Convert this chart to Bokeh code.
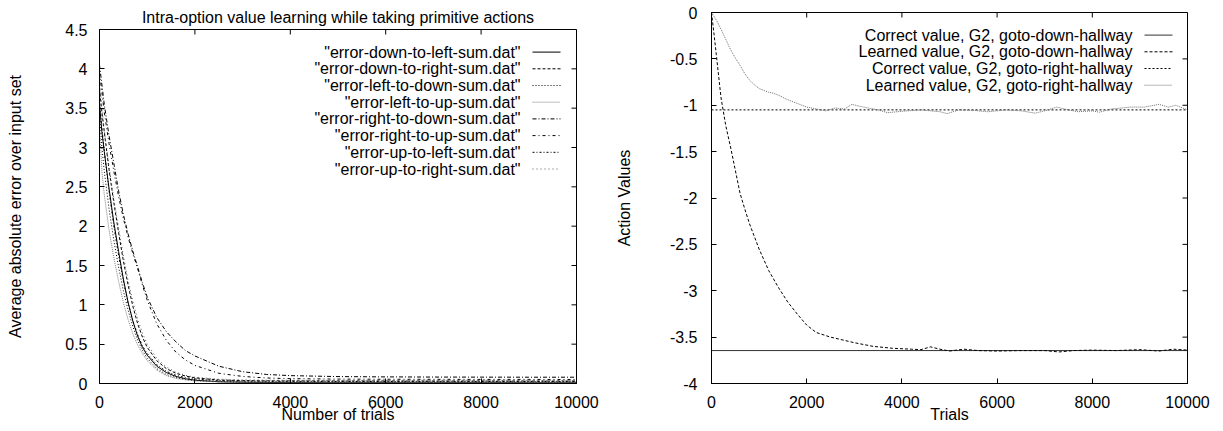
from bokeh.plotting import figure
from bokeh.layouts import row, column
from bokeh.models import FixedTicker, Range1d, Spacer
from bokeh.core.properties import value
from bokeh.embed import file_html
from bokeh.resources import INLINE

FONT = "Liberation Sans"
FS = "16px"

# ---------------- Left chart data ----------------
left_title = "Intra-option value learning while taking primitive actions"
left_xlabel = "Number of trials"
left_ylabel = "Average absolute error over input set"
left_names = [
    '"error-down-to-left-sum.dat"',
    '"error-down-to-right-sum.dat"',
    '"error-left-to-down-sum.dat"',
    '"error-left-to-up-sum.dat"',
    '"error-right-to-down-sum.dat"',
    '"error-right-to-up-sum.dat"',
    '"error-up-to-left-sum.dat"',
    '"error-up-to-right-sum.dat"',
]
trials_left = [0, 50, 100, 200, 300, 400, 500, 600, 700, 800, 900, 1000, 1200, 1400,
               1600, 1800, 2000, 2500, 3000, 3500, 4000, 5000, 6000, 7000, 8000, 9000, 10000]
err_down_to_left = [3.55, 3.2, 2.95, 2.48, 2.05, 1.68, 1.33, 1.03, 0.79, 0.6, 0.46, 0.36, 0.22, 0.14,
                    0.09, 0.06, 0.042, 0.022, 0.016, 0.013, 0.012, 0.011, 0.011, 0.010, 0.011, 0.010, 0.010]
err_down_to_right = [3.75, 3.45, 3.2, 2.72, 2.3, 1.92, 1.56, 1.25, 0.98, 0.76, 0.59, 0.46, 0.29, 0.19,
                     0.13, 0.095, 0.072, 0.045, 0.037, 0.034, 0.033, 0.032, 0.032, 0.031, 0.032, 0.031, 0.031]
err_left_to_down = [3.45, 3.0, 2.7, 2.22, 1.82, 1.48, 1.18, 0.93, 0.72, 0.55, 0.42, 0.32, 0.19, 0.115,
                    0.075, 0.052, 0.038, 0.024, 0.019, 0.017, 0.016, 0.016, 0.016, 0.015, 0.016, 0.015, 0.016]
err_left_to_up = [3.3, 2.7, 2.4, 1.95, 1.6, 1.3, 1.03, 0.81, 0.63, 0.49, 0.38, 0.29, 0.17, 0.1,
                  0.065, 0.045, 0.033, 0.021, 0.017, 0.015, 0.014, 0.014, 0.014, 0.015, 0.014, 0.014, 0.014]
err_right_to_down = [4.05, 3.8, 3.55, 3.15, 2.8, 2.45, 2.15, 1.9, 1.68, 1.48, 1.28, 1.1, 0.84, 0.66,
                     0.53, 0.42, 0.35, 0.22, 0.15, 0.115, 0.1, 0.088, 0.084, 0.082, 0.081, 0.080, 0.080]
err_right_to_up = [3.95, 3.7, 3.45, 3.05, 2.7, 2.38, 2.1, 1.86, 1.65, 1.46, 1.25, 1.06, 0.76, 0.55,
                   0.4, 0.3, 0.23, 0.13, 0.09, 0.07, 0.062, 0.056, 0.054, 0.053, 0.052, 0.052, 0.051]
err_up_to_left = [3.6, 3.25, 2.95, 2.45, 2.0, 1.63, 1.3, 1.02, 0.8, 0.62, 0.48, 0.38, 0.24, 0.155,
                  0.105, 0.075, 0.058, 0.038, 0.031, 0.028, 0.027, 0.026, 0.026, 0.027, 0.026, 0.026, 0.026]
err_up_to_right = [3.85, 3.5, 3.22, 2.75, 2.35, 1.98, 1.62, 1.31, 1.04, 0.82, 0.64, 0.5, 0.32, 0.21,
                   0.145, 0.105, 0.08, 0.055, 0.046, 0.043, 0.042, 0.041, 0.040, 0.041, 0.040, 0.040, 0.040]
left_series = [err_down_to_left, err_down_to_right, err_left_to_down, err_left_to_up,
               err_right_to_down, err_right_to_up, err_up_to_left, err_up_to_right]
left_xticks = [0, 2000, 4000, 6000, 8000, 10000]
left_yticks = [0, 0.5, 1, 1.5, 2, 2.5, 3, 3.5, 4, 4.5]
left_ytick_labels = ["0", "0.5", "1", "1.5", "2", "2.5", "3", "3.5", "4", "4.5"]

# ---------------- Right chart data ----------------
right_xlabel = "Trials"
right_ylabel = "Action Values"
right_names = [
    "Correct value, G2, goto-down-hallway",
    "Learned value, G2, goto-down-hallway",
    "Correct value, G2, goto-right-hallway",
    "Learned value, G2, goto-right-hallway",
]
correct_x = [0, 10000]
correct_down = [-3.645, -3.645]
correct_right = [-1.05, -1.05]
trials_down = [0, 50, 100, 200, 300, 400, 500, 600, 700, 800, 1000, 1200, 1400, 1600, 1800, 2000,
               2200, 2500, 3000, 3400, 3800, 4200, 4400, 4600, 4800, 5000, 5300, 5600, 6000,
               6500, 7000, 7300, 7600, 8000, 8500, 9000, 9400, 9700, 10000]
learned_down = [0, -0.22, -0.45, -0.92, -1.22, -1.45, -1.7, -1.95, -2.12, -2.28, -2.55, -2.78,
                -2.96, -3.12, -3.25, -3.37, -3.45, -3.5, -3.56, -3.6, -3.62, -3.63, -3.635,
                -3.605, -3.63, -3.65, -3.63, -3.645, -3.65, -3.645, -3.645, -3.66, -3.645,
                -3.64, -3.645, -3.635, -3.65, -3.63, -3.64]
trials_right = [0, 100, 200, 300, 400, 500, 600, 700, 800, 900, 1000, 1200, 1300, 1400, 1600,
                1800, 2000, 2200, 2400, 2600, 2800, 2950, 3100, 3300, 3500, 3700, 4000, 4400,
                4800, 4950, 5200, 5500, 5800, 6200, 6500, 6800, 7000, 7250, 7500, 7700, 8000,
                8150, 8400, 8600, 8800, 9100, 9400, 9600, 9750, 10000]
learned_right = [0, -0.08, -0.18, -0.29, -0.4, -0.49, -0.57, -0.66, -0.73, -0.78, -0.82, -0.86,
                 -0.87, -0.89, -0.94, -0.98, -1.02, -1.04, -1.06, -1.03, -1.04, -0.99, -1.01,
                 -1.03, -1.05, -1.08, -1.065, -1.05, -1.07, -1.09, -1.05, -1.055, -1.07, -1.05,
                 -1.06, -1.085, -1.06, -1.02, -1.05, -1.07, -1.06, -1.075, -1.04, -1.03, -1.02,
                 -1.02, -0.99, -1.02, -1.0, -1.05]
right_xticks = [0, 2000, 4000, 6000, 8000, 10000]
right_yticks = [0, -0.5, -1, -1.5, -2, -2.5, -3, -3.5, -4]
right_ytick_labels = ["0", "-0.5", "-1", "-1.5", "-2", "-2.5", "-3", "-3.5", "-4"]

# ---------------- styles ----------------
left_styles = [
    dict(color="black", dash="solid"),
    dict(color="black", dash="3 2"),
    dict(color="black", dash="1 2"),
    dict(color="#7f7f7f", dash="1 1"),
    dict(color="black", dash="4 2 1 2"),
    dict(color="black", dash="3 3 1 3"),
    dict(color="black", dash="2 2 1 2"),
    dict(color="#555555", dash="1 3"),
]
right_styles = [
    dict(color="#333333", dash="solid"),
    dict(color="black", dash="3 2"),
    dict(color="black", dash="2 2"),
    dict(color="#6e6e6e", dash="1 1"),
]
TICK = 5


def style_axes(p, xticks, yticks, ylabels, xlabel, ylabel, y_std, y_lab_std, xr, yr, fw, fh):
    p.xgrid.grid_line_color = None
    p.ygrid.grid_line_color = None
    p.outline_line_color = "black"
    p.outline_line_alpha = 1.0
    p.xaxis.ticker = FixedTicker(ticks=xticks)
    p.yaxis.ticker = FixedTicker(ticks=yticks)
    p.yaxis.major_label_overrides = {t: l for t, l in zip(yticks, ylabels)}
    p.xaxis.axis_label = xlabel
    p.yaxis.axis_label = ylabel
    for ax in p.axis:
        ax.axis_line_color = "black"
        ax.major_tick_in = TICK
        ax.major_tick_out = 0
        ax.minor_tick_line_color = None
        ax.major_tick_line_color = "black"
        ax.major_label_text_font = FONT
        ax.major_label_text_font_size = FS
        ax.major_label_text_color = "black"
        ax.axis_label_text_font = FONT
        ax.axis_label_text_font_size = FS
        ax.axis_label_text_font_style = "normal"
        ax.axis_label_text_color = "black"
    p.xaxis.major_label_standoff = 12
    p.xaxis.axis_label_standoff = -5
    p.yaxis.major_label_standoff = y_std
    p.yaxis.axis_label_standoff = y_lab_std
    # mirrored inward ticks on top and right edges (gnuplot style), at the tick values
    sx = (xr[1] - xr[0]) / fw
    sy = (yr[1] - yr[0]) / fh
    p.segment(x0=xticks, y0=[yr[1]] * len(xticks), x1=xticks,
              y1=[yr[1] - TICK * sy] * len(xticks), line_color="black", line_width=1)
    p.segment(x0=[xr[1]] * len(yticks), y0=yticks, x1=[xr[1] - TICK * sx] * len(yticks),
              y1=yticks, line_color="black", line_width=1)


def draw_key(p, names, styles, xr, yr, fw, fh):
    sx = (xr[1] - xr[0]) / fw
    sy = (yr[1] - yr[0]) / fh
    text_right = xr[0] + 421 * sx
    s0 = xr[0] + 433 * sx
    s1 = xr[0] + 461 * sx
    ys = [yr[1] - (22.6 + 16.7 * i) * sy for i in range(len(names))]
    p.text(x=[text_right] * len(names), y=ys, text=names, text_align="right",
           text_baseline="middle", text_font=value(FONT), text_font_size=value(FS),
           text_color="black")
    for yv, st in zip(ys, styles):
        p.segment(x0=[s0], y0=[yv], x1=[s1], y1=[yv], line_color=st["color"],
                  line_dash=st["dash"], line_width=1)


# ---------------- Left figure ----------------
LW, LH = 477, 354
LXR, LYR = (0, 10000), (0, 4.5)
p1 = figure(frame_width=LW, frame_height=LH, x_range=Range1d(*LXR), y_range=Range1d(*LYR),
            output_backend="svg", toolbar_location=None, title=left_title,
            min_border_left=99, min_border_right=32, min_border_top=29, min_border_bottom=47)
p1.title.text_font = FONT
p1.title.text_font_size = FS
p1.title.text_font_style = "normal"
p1.title.align = "center"
p1.title.standoff = 8
p1.title.text_color = "black"
style_axes(p1, left_xticks, left_yticks, left_ytick_labels, left_xlabel, left_ylabel,
           12, 38, LXR, LYR, LW, LH)
for ys, st in zip(left_series, left_styles):
    p1.line(trials_left, ys, line_color=st["color"], line_dash=st["dash"], line_width=1)
draw_key(p1, left_names, left_styles, LXR, LYR, LW, LH)

# ---------------- Right figure ----------------
RW, RH = 476, 371
RXR, RYR = (0, 10000), (-4, 0)
p2 = figure(frame_width=RW, frame_height=RH, x_range=Range1d(*RXR), y_range=Range1d(*RYR),
            output_backend="svg", toolbar_location=None,
            min_border_left=103, min_border_right=36, min_border_top=11, min_border_bottom=47)
style_axes(p2, right_xticks, right_yticks, right_ytick_labels, right_xlabel, right_ylabel,
           14, 34, RXR, RYR, RW, RH)
p2.line(correct_x, correct_down, line_color=right_styles[0]["color"],
        line_dash=right_styles[0]["dash"], line_width=1)
p2.line(trials_down, learned_down, line_color=right_styles[1]["color"],
        line_dash=right_styles[1]["dash"], line_width=1)
p2.line(correct_x, correct_right, line_color=right_styles[2]["color"],
        line_dash=right_styles[2]["dash"], line_width=1)
p2.line(trials_right, learned_right, line_color=right_styles[3]["color"],
        line_dash=right_styles[3]["dash"], line_width=1)
draw_key(p2, right_names, right_styles, RXR, RYR, RW, RH)

layout = row(p1, column(Spacer(width=615, height=1), p2))
open("out.html", "w").write(file_html(layout, INLINE))
